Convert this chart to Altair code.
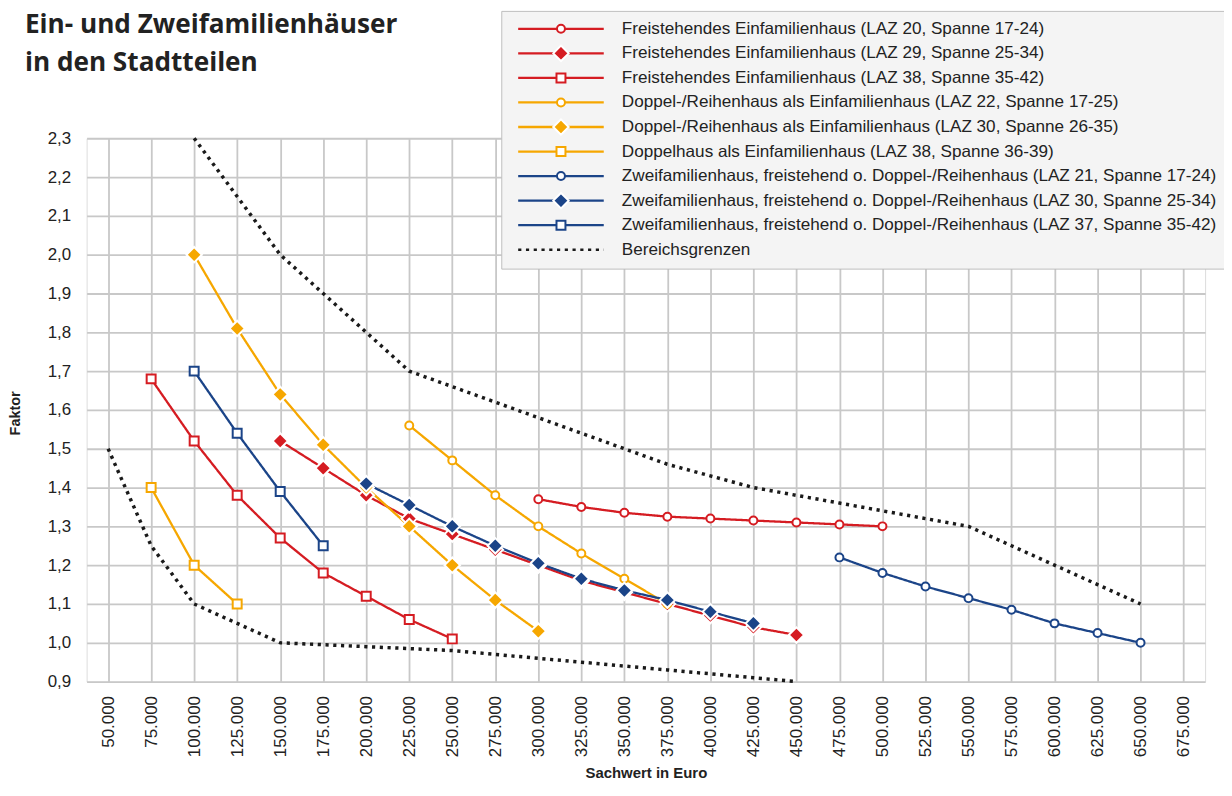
import altair as alt
import pandas as pd

# ---------------- data ----------------
names = [
    "Freistehendes Einfamilienhaus (LAZ 20, Spanne 17-24)",
    "Freistehendes Einfamilienhaus (LAZ 29, Spanne 25-34)",
    "Freistehendes Einfamilienhaus (LAZ 38, Spanne 35-42)",
    "Doppel-/Reihenhaus als Einfamilienhaus (LAZ 22, Spanne 17-25)",
    "Doppel-/Reihenhaus als Einfamilienhaus (LAZ 30, Spanne 26-35)",
    "Doppelhaus als Einfamilienhaus (LAZ 38, Spanne 36-39)",
    "Zweifamilienhaus, freistehend o. Doppel-/Reihenhaus (LAZ 21, Spanne 17-24)",
    "Zweifamilienhaus, freistehend o. Doppel-/Reihenhaus (LAZ 30, Spanne 25-34)",
    "Zweifamilienhaus, freistehend o. Doppel-/Reihenhaus (LAZ 37, Spanne 35-42)",
    "Bereichsgrenzen",
]

efh20_x = [300000, 325000, 350000, 375000, 400000, 425000, 450000, 475000, 500000]
efh20_y = [1.37, 1.35, 1.335, 1.325, 1.32, 1.315, 1.31, 1.305, 1.30]

efh29_x = [150000, 175000, 200000, 225000, 250000, 275000, 300000, 325000, 350000,
           375000, 400000, 425000, 450000]
efh29_y = [1.52, 1.45, 1.38, 1.32, 1.28, 1.24, 1.20, 1.16, 1.13, 1.10, 1.07, 1.04, 1.02]

efh38_x = [75000, 100000, 125000, 150000, 175000, 200000, 225000, 250000]
efh38_y = [1.68, 1.52, 1.38, 1.27, 1.18, 1.12, 1.06, 1.01]

drh22_x = [225000, 250000, 275000, 300000, 325000, 350000, 375000]
drh22_y = [1.56, 1.47, 1.38, 1.30, 1.23, 1.165, 1.10]

drh30_x = [100000, 125000, 150000, 175000, 200000, 225000, 250000, 275000, 300000]
drh30_y = [2.00, 1.81, 1.64, 1.51, 1.40, 1.30, 1.20, 1.11, 1.03]

dh38_x = [75000, 100000, 125000]
dh38_y = [1.40, 1.20, 1.10]

zfh21_x = [475000, 500000, 525000, 550000, 575000, 600000, 625000, 650000]
zfh21_y = [1.22, 1.18, 1.145, 1.115, 1.085, 1.05, 1.025, 1.00]

zfh30_x = [200000, 225000, 250000, 275000, 300000, 325000, 350000, 375000, 400000, 425000]
zfh30_y = [1.41, 1.355, 1.30, 1.25, 1.205, 1.165, 1.135, 1.11, 1.08, 1.05]

zfh37_x = [100000, 125000, 150000, 175000]
zfh37_y = [1.70, 1.54, 1.39, 1.25]

upper_x = [100000, 125000, 150000, 175000, 200000, 225000, 250000, 275000, 300000,
           325000, 350000, 375000, 400000, 425000, 450000, 475000, 500000, 525000,
           550000, 575000, 600000, 625000, 650000]
upper_y = [2.30, 2.15, 2.00, 1.90, 1.80, 1.70, 1.66, 1.62, 1.58, 1.54, 1.50, 1.46,
           1.43, 1.40, 1.38, 1.36, 1.34, 1.32, 1.30, 1.25, 1.20, 1.15, 1.10]

lower_x = [50000, 75000, 100000, 125000, 150000, 175000, 200000, 225000, 250000,
           275000, 300000, 325000, 350000, 375000, 400000, 425000, 450000]
lower_y = [1.50, 1.25, 1.10, 1.05, 1.00, 0.995, 0.99, 0.985, 0.98, 0.97, 0.96, 0.95,
           0.94, 0.93, 0.92, 0.91, 0.90]

x_ticks = [50000 + 25000 * i for i in range(26)]
y_ticks = [round(0.9 + 0.1 * i, 1) for i in range(15)]

# ---------------- styles ----------------
RED, ORANGE, BLUE, BLACK, WHITE = "#d51c22", "#f6a700", "#1b4488", "#1a1a1a", "#ffffff"
NONE = "transparent"
line_colors = [RED, RED, RED, ORANGE, ORANGE, ORANGE, BLUE, BLUE, BLUE, BLACK]
line_dash = [[1, 0]] * 9 + [[3.2, 4.6]]
pt_stroke = [RED, WHITE, RED, ORANGE, WHITE, ORANGE, BLUE, WHITE, BLUE, NONE]
pt_fill = [WHITE, RED, WHITE, WHITE, ORANGE, WHITE, WHITE, BLUE, WHITE, NONE]
CIRCLE = "M0.8,0A0.8,0.8,0,1,1,-0.8,0A0.8,0.8,0,1,1,0.8,0Z"
DIAMOND = "M-1.55,0L0,-1.55L1.55,0L0,1.55Z"
SQUARE = "M-0.9,-0.9L0.9,-0.9L0.9,0.9L-0.9,0.9Z"
BLANK = "M0,0L0.001,0"
pt_shape = [CIRCLE, DIAMOND, SQUARE] * 3 + [BLANK]

series = [
    (names[0], "a", efh20_x, efh20_y),
    (names[1], "a", efh29_x, efh29_y),
    (names[2], "a", efh38_x, efh38_y),
    (names[3], "a", drh22_x, drh22_y),
    (names[4], "a", drh30_x, drh30_y),
    (names[5], "a", dh38_x, dh38_y),
    (names[6], "a", zfh21_x, zfh21_y),
    (names[7], "a", zfh30_x, zfh30_y),
    (names[8], "a", zfh37_x, zfh37_y),
    (names[9], "upper", upper_x, upper_y),
    (names[9], "lower", lower_x, lower_y),
]
rows = []
for name, seg, xs, ys in series:
    sw = 3.5 if name == "Bereichsgrenzen" else 2.3
    for xv, yv in zip(xs, ys):
        rows.append({"series": name, "seg": seg, "sachwert": xv, "faktor": yv, "sw": sw})
df = pd.DataFrame(rows)
df_pts = df[df["series"] != "Bereichsgrenzen"].reset_index(drop=True)

LABEL_FONT = "Liberation Sans"
TXT = "#222222"

x_enc = alt.X(
    "sachwert:Q",
    scale=alt.Scale(domain=[37500, 687500], nice=False, zero=False),
    axis=alt.Axis(
        values=x_ticks, tickCount=40,
        labelExpr="replace(format(datum.value, ','), ',', '.')",
        labelAngle=270, labelAlign="right", labelBaseline="middle",
        labelFont=LABEL_FONT, labelFontSize=17, labelColor=TXT, labelPadding=14,
        labelFlush=False, labelOverlap=False,
        ticks=False, domain=False, grid=True, gridColor="#c8c8c8", gridWidth=1.8,
        title="Sachwert in Euro", titleFont=LABEL_FONT, titleFontSize=15,
        titleFontWeight="bold", titleColor=TXT, titleY=96, titleBaseline="alphabetic",
    ),
)
y_enc = alt.Y(
    "faktor:Q",
    scale=alt.Scale(domain=[0.9, 2.3], nice=False, zero=False),
    axis=alt.Axis(
        values=y_ticks, tickCount=40,
        labelExpr="replace(format(datum.value, '.1f'), '.', ',')",
        labelFont=LABEL_FONT, labelFontSize=17, labelColor=TXT, labelPadding=16,
        labelFlush=False, labelOverlap=False,
        ticks=False, domain=False, grid=True, gridColor="#c8c8c8", gridWidth=1.8,
        title="Faktor", titleFont=LABEL_FONT, titleFontSize=14.5,
        titleFontWeight="bold", titleColor=TXT, titleX=-67.5, titleY=276,
        titleAngle=270, titleBaseline="alphabetic", titleAlign="center",
    ),
)

LEG_X, LEG_Y = 416.7, -128
line_legend = alt.Legend(
    orient="none", legendX=LEG_X, legendY=LEG_Y, title=None, padding=8,
    symbolType="stroke", symbolSize=7396, symbolStrokeWidth=2.3,
    symbolOffset=7.5, labelOffset=16.7, clipHeight=20, rowPadding=4.67,
    labelFont=LABEL_FONT, labelFontSize=17.2, labelColor=TXT, labelLimit=800,
    fillColor="#f4f4f4", strokeColor="#bdbdbd",
)
pt_legend = alt.Legend(
    orient="none", legendX=LEG_X, legendY=LEG_Y, title=None, padding=8,
    symbolSize=100, symbolStrokeWidth=2, symbolOffset=43.75, labelOffset=4,
    clipHeight=20, rowPadding=4.67,
    labelFont=LABEL_FONT, labelFontSize=16.5, labelOpacity=0, labelLimit=800,
)

lines = alt.Chart(df).mark_line(strokeJoin="round").encode(
    x=x_enc,
    y=y_enc,
    stroke=alt.Stroke("series:N", scale=alt.Scale(domain=names, range=line_colors), legend=line_legend),
    strokeDash=alt.StrokeDash("series:N", scale=alt.Scale(domain=names, range=line_dash), legend=line_legend),
    strokeWidth=alt.StrokeWidth("sw:Q", scale=None),
    detail="seg:N",
)

points = alt.Chart(df_pts).mark_point(filled=True, size=100, opacity=1, strokeWidth=2).encode(
    x=alt.X("sachwert:Q"),
    y=alt.Y("faktor:Q"),
    stroke=alt.Stroke("series:N", scale=alt.Scale(domain=names, range=pt_stroke), legend=pt_legend),
    fill=alt.Fill("series:N", scale=alt.Scale(domain=names, range=pt_fill), legend=pt_legend),
    shape=alt.Shape("series:N", scale=alt.Scale(domain=names, range=pt_shape), legend=pt_legend),
)

chart = alt.layer(lines, points).resolve_scale(
    stroke="independent", fill="independent", shape="independent", strokeDash="independent"
).properties(
    width=1124,
    height=546,
    autosize=alt.AutoSizeParams(type="none"),
    padding={"left": 79, "top": 129, "right": 19, "bottom": 99},
    title=alt.Title(
        ["Ein- und Zweifamilienhäuser", "in den Stadtteilen"],
        anchor="start", frame="group", font="Open Sans", fontSize=26.3,
        fontWeight="bold", color="#222222", offset=0, baseline="bottom",
        lineHeight=38, dx=-62, dy=93,
    ),
).configure_view(
    fill="#e4e4e4", stroke="#bcbcbc", strokeWidth=2
).configure(background="white")

chart.save("out.html", embed_options={"renderer": "svg", "actions": False})
